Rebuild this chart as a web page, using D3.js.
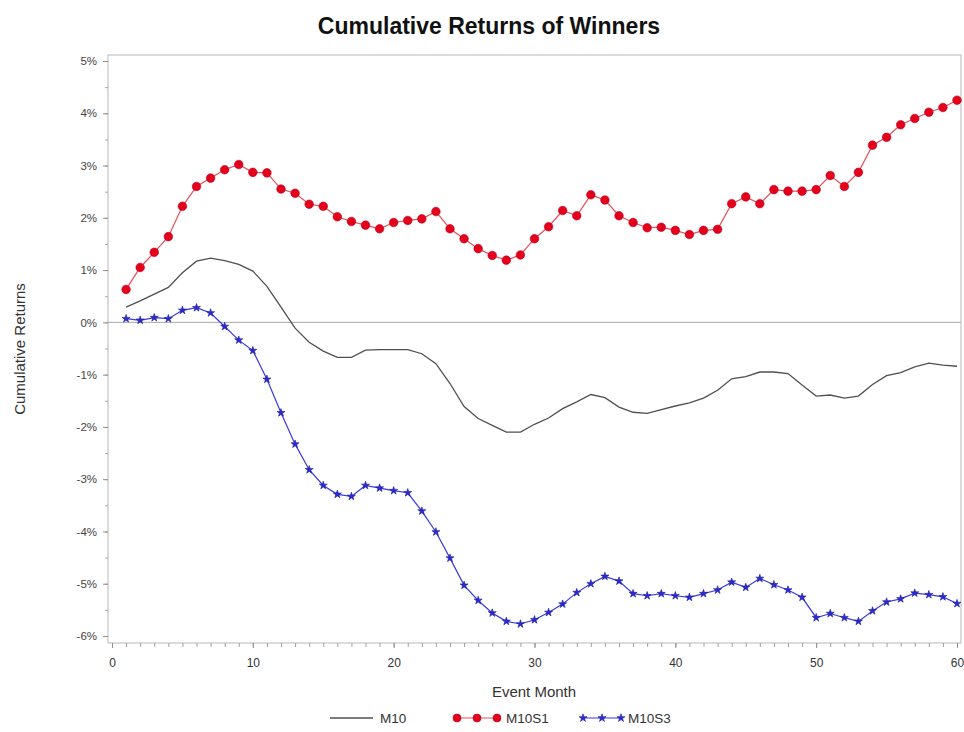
<!DOCTYPE html>
<html>
<head>
<meta charset="utf-8">
<script src="https://cdn.jsdelivr.net/npm/d3@7/dist/d3.min.js"></script>
<style>
  html, body { margin: 0; padding: 0; background: #fff; }
  svg { display: block; }
  text { font-family: "Liberation Sans", Arial, sans-serif; }
</style>
</head>
<body>
<svg id="chart" width="964" height="732"></svg>
<script>
// Event months 1..60
const months = d3.range(1, 61);

// Cumulative returns (%) per event month
const m10 = [
  0.29, 0.41, 0.54, 0.67, 0.95, 1.17, 1.23, 1.18, 1.11, 0.98,
  0.69, 0.29, -0.11, -0.38, -0.55, -0.67, -0.67, -0.53, -0.52, -0.52,
  -0.52, -0.60, -0.79, -1.17, -1.61, -1.84, -1.97, -2.10, -2.10, -1.95,
  -1.83, -1.65, -1.52, -1.38, -1.44, -1.62, -1.72, -1.74, -1.67, -1.60,
  -1.54, -1.45, -1.30, -1.08, -1.04, -0.95, -0.95, -0.98, -1.20, -1.41,
  -1.39, -1.45, -1.41, -1.19, -1.02, -0.96, -0.85, -0.78, -0.82, -0.84
];
const m10s1 = [
  0.63, 1.05, 1.34, 1.64, 2.22, 2.60, 2.76, 2.92, 3.02, 2.87,
  2.86, 2.55, 2.47, 2.26, 2.22, 2.02, 1.93, 1.86, 1.79, 1.91,
  1.95, 1.98, 2.12, 1.79, 1.60, 1.41, 1.28, 1.19, 1.29, 1.60,
  1.83, 2.14, 2.04, 2.44, 2.34, 2.04, 1.91, 1.81, 1.82, 1.76,
  1.68, 1.76, 1.78, 2.27, 2.40, 2.27, 2.54, 2.51, 2.51, 2.54,
  2.81, 2.60, 2.87, 3.39, 3.54, 3.78, 3.90, 4.02, 4.11, 4.25
];
const m10s3 = [
  0.07, 0.04, 0.09, 0.07, 0.23, 0.28, 0.18, -0.08, -0.34, -0.54,
  -1.09, -1.73, -2.33, -2.82, -3.12, -3.29, -3.33, -3.12, -3.17, -3.22,
  -3.26, -3.61, -4.01, -4.51, -5.03, -5.32, -5.56, -5.72, -5.77, -5.69,
  -5.55, -5.39, -5.17, -5.00, -4.86, -4.95, -5.19, -5.23, -5.19, -5.23,
  -5.26, -5.19, -5.12, -4.97, -5.07, -4.90, -5.02, -5.12, -5.26, -5.65,
  -5.57, -5.65, -5.72, -5.52, -5.35, -5.29, -5.18, -5.21, -5.25, -5.38
];

const xTicks = [0, 10, 20, 30, 40, 50, 60];
const yTicks = [5, 4, 3, 2, 1, 0, -1, -2, -3, -4, -5, -6];

const seriesNames = ["M10", "M10S1", "M10S3"];

const svg = d3.select("#chart");

// Frame of the plot area
const frame = { left: 108, top: 55, right: 961, bottom: 643 };

const x = d3.scaleLinear().domain([0, 60]).range([112, 957]);
const y = d3.scaleLinear().domain([-6, 5]).range([636, 61]);

// Title
svg.append("text")
  .attr("x", 489).attr("y", 34)
  .attr("text-anchor", "middle")
  .attr("font-size", 23).attr("font-weight", "bold")
  .attr("fill", "#111")
  .text("Cumulative Returns of Winners");

// Plot frame
svg.append("rect")
  .attr("x", frame.left).attr("y", frame.top)
  .attr("width", frame.right - frame.left)
  .attr("height", frame.bottom - frame.top)
  .attr("fill", "none").attr("stroke", "#b8b8b8").attr("stroke-width", 1);

// Zero reference line
svg.append("line")
  .attr("x1", frame.left).attr("x2", frame.right)
  .attr("y1", y(0)).attr("y2", y(0))
  .attr("stroke", "#a8a8a8").attr("stroke-width", 1);

// X axis with monthly minor ticks
const xAxisG = svg.append("g").attr("transform", `translate(0,${frame.bottom})`);
xAxisG.call(d3.axisBottom(x).tickValues(d3.range(0, 61)).tickSize(4).tickFormat(""))
  .call(g => g.select(".domain").remove())
  .call(g => g.selectAll("line").attr("stroke", "#a0a0a0"));
const xLab = svg.append("g").attr("transform", `translate(0,${frame.bottom})`);
xLab.call(d3.axisBottom(x).tickValues(xTicks).tickSize(5).tickPadding(10).tickFormat(d3.format("d")))
  .call(g => g.select(".domain").remove())
  .call(g => g.selectAll("line").attr("stroke", "#909090"))
  .call(g => g.selectAll("text").attr("font-size", 12).attr("fill", "#333")
    .attr("font-family", "'Liberation Sans', Arial, sans-serif"));

// Y axis
const yAxisG = svg.append("g").attr("transform", `translate(${frame.left},0)`);
yAxisG.call(d3.axisLeft(y).tickValues(d3.range(-6, 5.01, 0.5)).tickSize(3).tickFormat(""))
  .call(g => g.select(".domain").remove())
  .call(g => g.selectAll("line").attr("stroke", "#a8a8a8"));
const yLab = svg.append("g").attr("transform", `translate(${frame.left},0)`);
yLab.call(d3.axisLeft(y).tickValues(yTicks).tickSize(5).tickPadding(6).tickFormat(d => d + "%"))
  .call(g => g.select(".domain").remove())
  .call(g => g.selectAll("line").attr("stroke", "#909090"))
  .call(g => g.selectAll("text").attr("font-size", 11.5).attr("fill", "#444")
    .attr("font-family", "'Liberation Sans', Arial, sans-serif"));

// Axis titles
svg.append("text")
  .attr("x", 534).attr("y", 697)
  .attr("text-anchor", "middle")
  .attr("font-size", 15).attr("fill", "#333")
  .text("Event Month");
svg.append("text")
  .attr("transform", `translate(25,${(frame.top + frame.bottom) / 2}) rotate(-90)`)
  .attr("text-anchor", "middle")
  .attr("font-size", 15).attr("fill", "#333")
  .text("Cumulative Returns");

const line = d3.line().x((d, i) => x(months[i])).y(d => y(d));

// M10: plain dark line
svg.append("path")
  .datum(m10)
  .attr("d", line)
  .attr("fill", "none").attr("stroke", "#505050").attr("stroke-width", 1.3);

// M10S3: blue line with star markers
svg.append("path")
  .datum(m10s3)
  .attr("d", line)
  .attr("fill", "none").attr("stroke", "#3a3ae0").attr("stroke-width", 1.2);
const star = d3.symbol().type(d3.symbolStar).size(20);
svg.append("g").selectAll("path")
  .data(m10s3)
  .join("path")
  .attr("transform", (d, i) => `translate(${x(months[i])},${y(d)})`)
  .attr("d", star)
  .attr("fill", "#2a2ad8").attr("stroke", "#1a1a90").attr("stroke-width", 0.6);

// M10S1: red line with dot markers
svg.append("path")
  .datum(m10s1)
  .attr("d", line)
  .attr("fill", "none").attr("stroke", "#e8505a").attr("stroke-width", 1.2);
svg.append("g").selectAll("circle")
  .data(m10s1)
  .join("circle")
  .attr("cx", (d, i) => x(months[i]))
  .attr("cy", d => y(d))
  .attr("r", 4.3)
  .attr("fill", "#e4001c").attr("stroke", "#c0001a").attr("stroke-width", 0.6);

// Legend
const legendY = 718;
const lg = svg.append("g");
lg.append("line").attr("x1", 330).attr("x2", 373).attr("y1", legendY).attr("y2", legendY)
  .attr("stroke", "#505050").attr("stroke-width", 1.3);
lg.append("text").attr("x", 380).attr("y", legendY + 5).attr("font-size", 13.5).attr("fill", "#333").text(seriesNames[0]);

lg.append("line").attr("x1", 457).attr("x2", 497).attr("y1", legendY).attr("y2", legendY)
  .attr("stroke", "#e8505a").attr("stroke-width", 1.2);
[457, 477, 497].forEach(cx => lg.append("circle").attr("cx", cx).attr("cy", legendY).attr("r", 4)
  .attr("fill", "#e4001c").attr("stroke", "#c0001a").attr("stroke-width", 0.6));
lg.append("text").attr("x", 506).attr("y", legendY + 5).attr("font-size", 13.5).attr("fill", "#333").text(seriesNames[1]);

lg.append("line").attr("x1", 583).attr("x2", 621).attr("y1", legendY).attr("y2", legendY)
  .attr("stroke", "#3a3ae0").attr("stroke-width", 1.2);
[583, 602, 621].forEach(cx => lg.append("path").attr("transform", `translate(${cx},${legendY})`)
  .attr("d", star).attr("fill", "#2a2ad8").attr("stroke", "#1a1a90").attr("stroke-width", 0.6));
lg.append("text").attr("x", 628).attr("y", legendY + 5).attr("font-size", 13.5).attr("fill", "#333").text(seriesNames[2]);
</script>
</body>
</html>
